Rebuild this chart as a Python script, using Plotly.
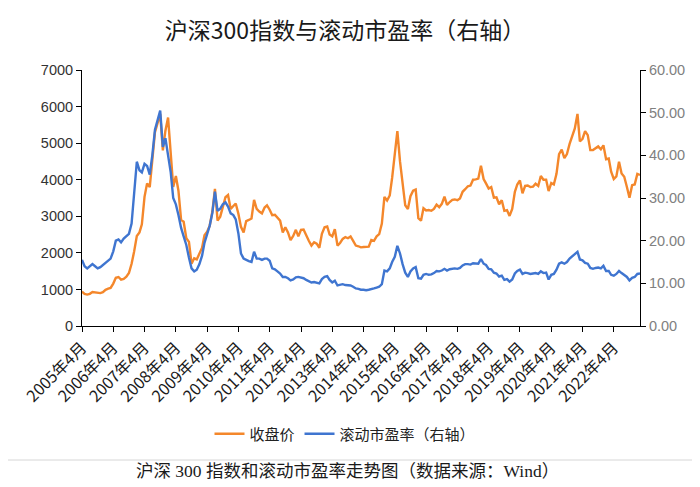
import pandas as pd
import plotly.graph_objects as go

# Monthly observations, Apr 2005 - Feb 2023
start_month = "2005-04-01"

close = [
    # 2005 Apr-Dec
    940, 880, 860, 880, 930, 920, 890, 900, 923,
    # 2006
    990, 1020, 1040, 1160, 1320, 1340, 1270, 1290, 1350, 1450, 1700, 2040,
    # 2007
    2460, 2560, 2780, 3530, 3900, 3800, 4470, 5300, 5550, 5800, 4800, 5340,
    # 2008
    5700, 4600, 3800, 4100, 3700, 2900, 2850, 2400, 2300, 1700, 1850, 1820,
    # 2009
    1990, 2140, 2480, 2580, 2740, 3130, 3750, 2880, 2990, 3280, 3520, 3580,
    # 2010
    3200, 3280, 3350, 3070, 2710, 2560, 2870, 2900, 2940, 3450, 3200, 3130,
    # 2011
    3080, 3240, 3300, 3180, 3030, 3040, 2950, 2880, 2560, 2700, 2560, 2350,
    # 2012
    2460, 2630, 2450, 2630, 2640, 2460, 2330, 2200, 2290, 2250, 2140, 2520,
    # 2013
    2700, 2720, 2500, 2450, 2650, 2200, 2270, 2380, 2430, 2400, 2450, 2330,
    # 2014
    2200, 2180, 2150, 2160, 2160, 2170, 2350, 2330, 2450, 2510, 2800, 3530,
    # 2015
    3430, 3570, 4050, 4750, 5330, 4500, 3900, 3300, 3200, 3550, 3700, 3730,
    # 2016
    2950, 2880, 3220, 3160, 3170, 3150, 3200, 3320, 3250, 3340, 3540, 3310,
    # 2017
    3390, 3450, 3460, 3440, 3490, 3670, 3740, 3820, 3840, 4000, 4010, 4030,
    # 2018
    4380, 4020, 3900, 3760, 3800, 3510, 3520, 3330, 3440, 3150, 3170, 3010,
    # 2019
    3200, 3670, 3870, 3980, 3630, 3830, 3840, 3800, 3810, 3890, 3830, 4100,
    # 2020
    4000, 4000, 3690, 3910, 3870, 4160, 4700, 4820, 4590, 4700, 4980, 5210,
    # 2021
    5400, 5800, 5050, 5120, 5330, 5220, 4810, 4810, 4870, 4910, 4830, 4940,
    # 2022
    4560, 4580, 4220, 4020, 4090, 4490, 4170, 4080, 3800, 3510, 3850, 3870,
    # 2023 Jan-Feb
    4160, 4130,
]

pe_ttm = [
    # 2005 Apr-Dec
    15.5, 14.0, 13.5, 14.0, 14.5, 14.0, 13.5, 13.8, 14.3,
    # 2006
    15.0, 15.4, 15.8, 17.5, 20.0, 20.3, 19.6, 20.5, 21.0, 21.6, 24.0, 31.0,
    # 2007
    38.5, 36.5, 36.0, 38.0, 37.5, 35.5, 40.0, 46.0, 48.0, 50.5, 42.0, 44.0,
    # 2008
    40.0, 36.0, 30.0, 28.5, 26.0, 23.0, 21.0, 19.0, 16.0, 13.5, 12.8, 13.2,
    # 2009
    14.5, 16.5, 19.5, 21.5, 23.5, 26.5, 31.5, 27.0, 27.5, 28.5, 29.0, 28.0,
    # 2010
    26.4, 26.0, 25.0, 21.7, 17.0, 15.8, 15.4, 15.2, 15.0, 17.4, 15.8, 15.8,
    # 2011
    15.5, 15.8, 15.8, 15.3, 13.5, 13.3, 12.8, 12.3, 11.5, 11.5, 11.2, 10.7,
    # 2012
    10.9, 11.4, 11.5, 11.3, 11.2, 10.8, 10.5, 10.2, 10.3, 10.2, 10.0, 11.0,
    # 2013
    11.5, 11.7, 10.8, 10.2, 10.6, 9.5, 9.6, 9.8, 9.6, 9.6, 9.5, 9.2,
    # 2014
    8.8, 8.7, 8.5, 8.5, 8.4, 8.5, 8.6, 8.8, 9.0, 9.2, 9.8, 13.0,
    # 2015
    12.8, 13.5, 15.0, 16.2, 18.8, 17.0, 14.5, 12.5, 11.5, 12.8, 13.5, 13.8,
    # 2016
    11.2, 11.1, 12.0, 12.2, 12.0, 12.1, 12.4, 12.9, 12.8, 13.0, 13.4, 13.0,
    # 2017
    13.3, 13.5, 13.5, 13.4, 13.6, 14.2, 14.5, 14.5, 14.4, 14.7, 14.6, 14.6,
    # 2018
    15.7, 14.6, 14.3, 13.4, 13.3, 12.5, 12.3, 11.6, 11.8, 10.8, 11.0, 10.4,
    # 2019
    10.9, 12.3, 12.9, 13.2, 12.2, 12.5, 12.4, 12.2, 12.3, 12.4, 12.2, 12.8,
    # 2020
    12.4, 12.5, 10.9, 12.0, 12.2, 13.2, 14.6, 14.9, 14.6, 15.0, 15.8, 16.4,
    # 2021
    16.9, 17.4, 15.6, 15.4, 14.8, 14.6, 13.6, 13.4, 13.6, 13.7, 13.5, 14.1,
    # 2022
    12.9, 12.9, 12.0, 11.8, 12.2, 12.9, 12.4, 12.0, 11.5, 10.7, 11.3, 11.5,
    # 2023 Jan-Feb
    12.2, 12.3,
]

tick_years = list(range(2005, 2023))
tick_labels = [f"{y}年4月" for y in tick_years]

title_text = "沪深300指数与滚动市盈率（右轴）"
caption_text = "沪深 300 指数和滚动市盈率走势图（数据来源：Wind）"
name_close = "收盘价"
name_pe = "滚动市盈率（右轴）"

dates = pd.date_range(start_month, periods=len(close), freq="MS")
tick_vals = [pd.Timestamp(f"{y}-04-01") for y in tick_years]

# page is offset by the body margin (8px), so the figure is 8px smaller
OFF = 8
W, H = 700 - OFF, 487 - OFF
ML, MR, MT, MB = 82 - OFF, 60, 70 - OFF, 161
PW, PH = W - ML - MR, H - MT - MB


def px(x):
    """page x pixel -> paper fraction"""
    return (x - OFF - ML) / PW


def py(y):
    """page y pixel -> paper fraction"""
    return (H - MB - (y - OFF)) / PH


CJK = "Noto Sans CJK SC, Noto Sans, sans-serif"
NUM = "Liberation Sans, Arial, sans-serif"
ORANGE = "#F4872B"
BLUE = "#3F75D0"

fig = go.Figure()
fig.add_trace(go.Scatter(x=dates, y=close, name=name_close, mode="lines",
                         line=dict(color=ORANGE, width=2.4), yaxis="y"))
fig.add_trace(go.Scatter(x=dates, y=pe_ttm, name=name_pe, mode="lines",
                         line=dict(color=BLUE, width=2.4), yaxis="y2"))

gray = "#e9e9e9"
shapes = [
    dict(type="rect", xref="paper", yref="paper", x0=px(694), x1=px(700), y0=py(8), y1=py(460),
         fillcolor=gray, line=dict(width=0), layer="below"),
    dict(type="line", xref="paper", yref="paper", x0=px(8), x1=px(700), y0=py(460), y1=py(460),
         line=dict(color="#d6d6d6", width=1)),
]

fig.update_layout(
    width=W, height=H,
    margin=dict(l=ML, r=MR, t=MT, b=MB),
    paper_bgcolor="white", plot_bgcolor="white",
    font=dict(family=CJK, color="#222222", size=13),
    title=dict(text=title_text, x=(345 - OFF) / W, xref="container", xanchor="center",
               y=1 - (31 - OFF) / H, yref="container", yanchor="middle",
               font=dict(family=CJK, size=23, color="#1a1a1a")),
    showlegend=True,
    legend=dict(orientation="h", xref="container", yref="container",
                x=(345 - OFF) / W, xanchor="center", y=1 - (434 - OFF) / H, yanchor="middle",
                font=dict(family=CJK, size=15, color="#222222"),
                itemwidth=30, tracegroupgap=0, bgcolor="rgba(0,0,0,0)"),
    xaxis=dict(type="date", range=[dates[0], dates[-1]], tickvals=tick_vals, ticktext=tick_labels,
               tickangle=-45, showgrid=False, zeroline=False, showline=True, linecolor="black",
               linewidth=1, ticks="outside", ticklen=5, tickcolor="black",
               tickfont=dict(family=CJK, size=16, color="#1a1a1a")),
    yaxis=dict(range=[0, 7000], dtick=1000, showgrid=False, zeroline=False, showline=True,
               linecolor="black", linewidth=1, ticks="outside", ticklen=5, tickcolor="black",
               tickfont=dict(family=NUM, size=14.5, color="#333333")),
    yaxis2=dict(range=[0, 60], dtick=10, tickformat=".2f", overlaying="y", side="right",
                showgrid=False, zeroline=False, showline=True, linecolor="black", linewidth=1,
                ticks="outside", ticklen=5, tickcolor="black",
                tickfont=dict(family=NUM, size=14.5, color="#808080")),
    shapes=shapes,
    annotations=[dict(text=caption_text, xref="paper", yref="paper", x=px(347), y=py(471),
                      xanchor="center", yanchor="middle", showarrow=False,
                      font=dict(family="Liberation Serif, Noto Sans CJK SC, serif", size=17.5,
                                color="#1a1a1a"))],
)

fig.write_html("out.html")
